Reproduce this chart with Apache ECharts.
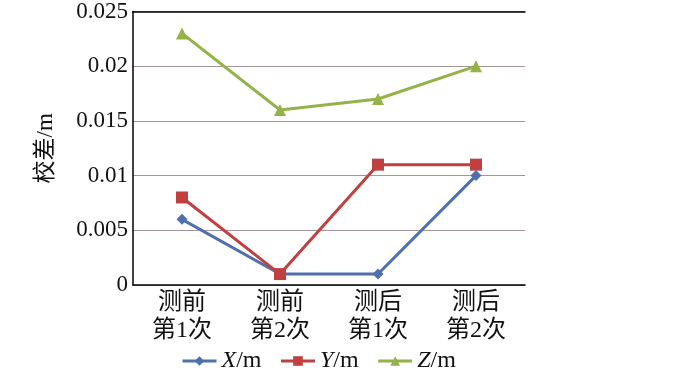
<!DOCTYPE html>
<html><head><meta charset="utf-8">
<script src="https://cdn.jsdelivr.net/npm/echarts@6/dist/echarts.min.js"></script>
<style>html,body{margin:0;padding:0;background:#fff}#c{width:700px;height:374px}</style>
</head><body><div id="c"></div>
<script>
const categories = ['测前\n第1次', '测前\n第2次', '测后\n第1次', '测后\n第2次'];
const xValues = [0.006, 0.001, 0.001, 0.010];
const yValues = [0.008, 0.001, 0.011, 0.011];
const zValues = [0.023, 0.016, 0.017, 0.020];
const yTicks = [0, 0.005, 0.01, 0.015, 0.02, 0.025];
const seriesNames = ['X/m', 'Y/m', 'Z/m'];

const serif = '"Liberation Serif", "Times New Roman", "Noto Sans CJK SC", serif';
const chart = echarts.init(document.getElementById('c'));
const mk = (name, data, color, symbol, size) => ({
  name, type: 'line', data, xAxisIndex: 0,
  symbol, symbolSize: size, showSymbol: true,
  lineStyle: { color, width: 3 },
  itemStyle: { color },
  emphasis: { disabled: true }
});
chart.setOption({
  animation: false,
  grid: { left: 133, right: 175, top: 7, bottom: 89 },
  xAxis: [{
    type: 'category', data: categories, boundaryGap: true,
    axisLine: { lineStyle: { color: '#000', width: 1.5 } },
    axisTick: { show: false },
    axisLabel: { color: '#111', fontFamily: serif, fontSize: 24, lineHeight: 28, margin: 4 }
  }, {
    type: 'category', data: categories, position: 'top',
    axisLine: { show: true, lineStyle: { color: '#000', width: 1.5 } },
    axisTick: { show: false }, axisLabel: { show: false }
  }],
  yAxis: {
    type: 'value', min: 0, max: 0.025, interval: 0.005,
    name: '校差/m', nameLocation: 'middle', nameGap: 76, nameRotate: 90,
    nameTextStyle: { fontFamily: serif, fontSize: 23, color: '#111' },
    axisLine: { show: true, lineStyle: { color: '#000', width: 1.5 } },
    axisTick: { show: false },
    splitLine: { lineStyle: { color: '#a89494', width: 1 } },
    axisLabel: {
      color: '#111', fontFamily: serif, fontSize: 23, margin: 5,
      formatter: v => { const t = yTicks.find(x => Math.abs(x - v) < 1e-9); return t === undefined ? '' : String(+t.toFixed(3)); }
    }
  },
  legend: {
    bottom: -4, left: 176, itemWidth: 34, itemHeight: 12, itemGap: 18,
    data: seriesNames,
    lineStyle: { width: 3 },
    formatter: n => '{i|' + n.split('/')[0] + '}/m',
    textStyle: { fontFamily: serif, fontSize: 24, color: '#111',
      rich: { i: { fontFamily: serif, fontSize: 24, fontStyle: 'italic', color: '#111' } } }
  },
  series: [
    mk(seriesNames[0], xValues, '#4f6fae', 'diamond', 11),
    mk(seriesNames[1], yValues, '#c0403f', 'rect', 12),
    mk(seriesNames[2], zValues, '#93b247', 'triangle', 12)
  ]
});
</script></body></html>
